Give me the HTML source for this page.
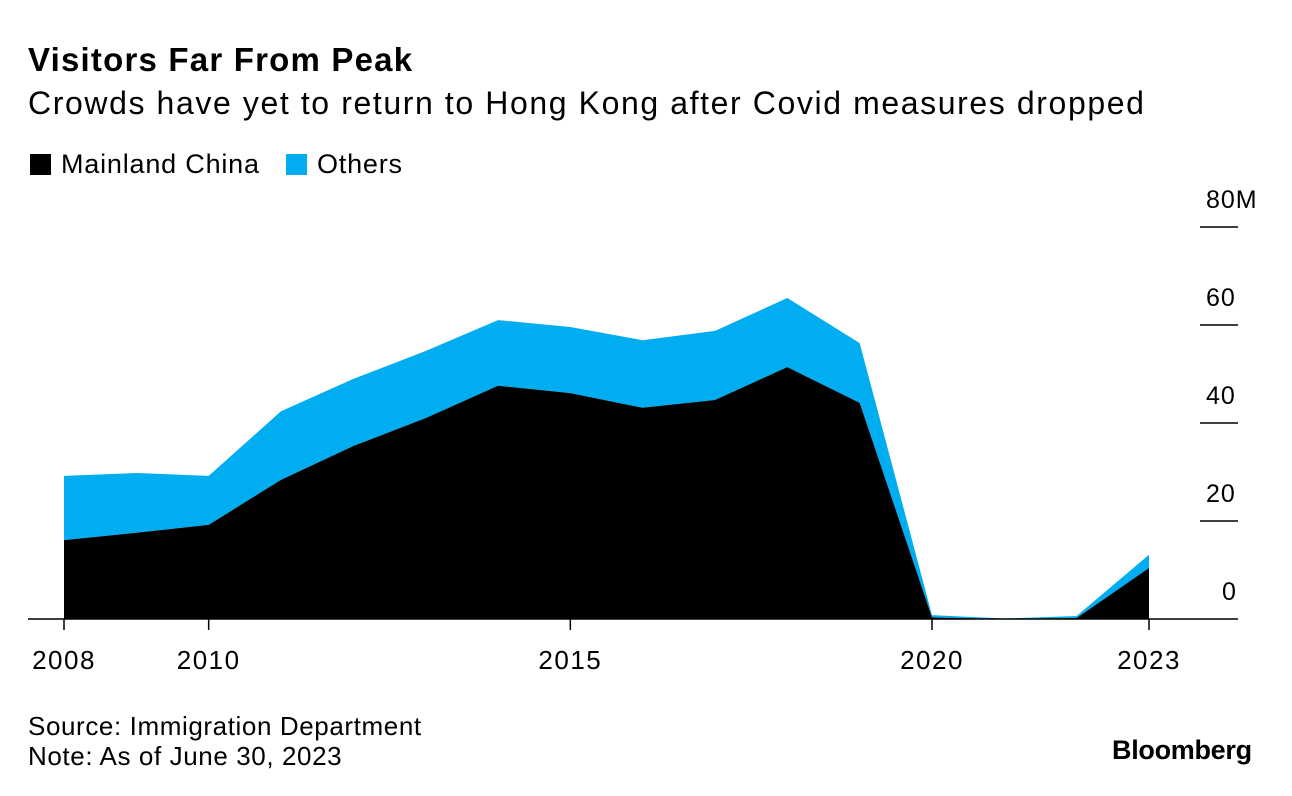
<!DOCTYPE html>
<html><head><meta charset="utf-8"><style>
body{margin:0;width:1292px;height:796px;background:#fff;font-family:"Liberation Sans",sans-serif;overflow:hidden;position:relative}
.t{position:absolute;white-space:nowrap;color:#000}
</style></head><body>
<div class="t" style="left:28px;top:41px;font-size:33px;font-weight:bold;letter-spacing:1.2px">Visitors Far From Peak</div>
<div class="t" style="left:28px;top:85px;font-size:32px;letter-spacing:1.6px">Crowds have yet to return to Hong Kong after Covid measures dropped</div>
<div class="t" style="left:30px;top:149px;font-size:27px;letter-spacing:0.8px"><span style="display:inline-block;width:21px;height:21px;background:#000;vertical-align:-2px;margin-right:10px"></span>Mainland China</div>
<div class="t" style="left:286px;top:149px;font-size:27px;letter-spacing:0.8px"><span style="display:inline-block;width:21px;height:21px;background:#00adf0;vertical-align:-2px;margin-right:10px"></span>Others</div>
<svg id="chart" width="1292" height="796" style="position:absolute;left:0;top:0"></svg>
<div class="t" style="left:28px;top:711px;font-size:26px;line-height:30px;letter-spacing:0.6px">Source: Immigration Department<br>Note: As of June 30, 2023</div>
<div class="t" style="left:1112px;top:735px;font-size:27px;font-weight:bold;letter-spacing:-0.3px">Bloomberg</div>
<script>
const years=[2008,2009,2010,2011,2012,2013,2014,2015,2016,2017,2018,2019,2020,2021,2022,2023];
const mainland=[16.1,17.6,19.2,28.4,35.3,41,47.6,46.1,43.1,44.7,51.4,44.1,0.3,0,0.2,10.4];
const total=[29.2,29.8,29.2,42.4,49,54.7,61,59.6,56.9,58.8,65.5,56.3,0.8,0.1,0.6,13.1];
const yTicks=[0,20,40,60,80];
const yTickLabels=["0","20","40","60","80M"];
const xTicks=[2008,2010,2015,2020,2023];
const NS="http://www.w3.org/2000/svg";
const svg=document.getElementById('chart');
const x=v=>64+(v-2008)*(1149-64)/15;
const y=v=>619-v*4.9;
function area(top,bot,fill,name){
  let d="M"+years.map((yr,i)=>x(yr)+","+y(top[i])).join("L");
  for(let i=years.length-1;i>=0;i--)d+="L"+x(years[i])+","+y(bot?bot[i]:0);
  const p=document.createElementNS(NS,'path');
  p.setAttribute('d',d+"Z");p.setAttribute('fill',fill);
  
  
  svg.appendChild(p);
}
area(total,mainland,'#00adf0','others-area');
area(mainland,null,'#000','mainland-area');
yTicks.forEach((v,i)=>{
  const l=document.createElementNS(NS,'line');
  l.setAttribute('x1',1200);l.setAttribute('x2',1238);l.setAttribute('y1',y(v));l.setAttribute('y2',y(v));
  l.setAttribute('stroke','#000');l.setAttribute('stroke-width',v===0?0:1.5);
  
  
  svg.appendChild(l);
  const t=document.createElementNS(NS,'text');
  t.setAttribute('x',v===0?1222:1206);t.setAttribute('y',y(v)-19);
  t.setAttribute('font-size','25');t.setAttribute('font-family','Liberation Sans, sans-serif');
  t.setAttribute('letter-spacing','1');
  t.textContent=yTickLabels[i];
  
  
  svg.appendChild(t);
});
const base=document.createElementNS(NS,'line');
base.setAttribute('x1',28);base.setAttribute('x2',1238);base.setAttribute('y1',619);base.setAttribute('y2',619);
base.setAttribute('stroke','#000');base.setAttribute('stroke-width',1.5);


svg.appendChild(base);
xTicks.forEach(v=>{
  const l=document.createElementNS(NS,'line');
  l.setAttribute('x1',x(v));l.setAttribute('x2',x(v));l.setAttribute('y1',619);l.setAttribute('y2',630);
  l.setAttribute('stroke','#000');l.setAttribute('stroke-width',1.5);
  
  
  svg.appendChild(l);
  const t=document.createElementNS(NS,'text');
  t.setAttribute('x',x(v));t.setAttribute('y',669);t.setAttribute('text-anchor','middle');
  t.setAttribute('font-size','26');t.setAttribute('font-family','Liberation Sans, sans-serif');
  t.setAttribute('letter-spacing','1.5');
  t.textContent=v;
  
  
  svg.appendChild(t);
});
</script>
</body></html>
